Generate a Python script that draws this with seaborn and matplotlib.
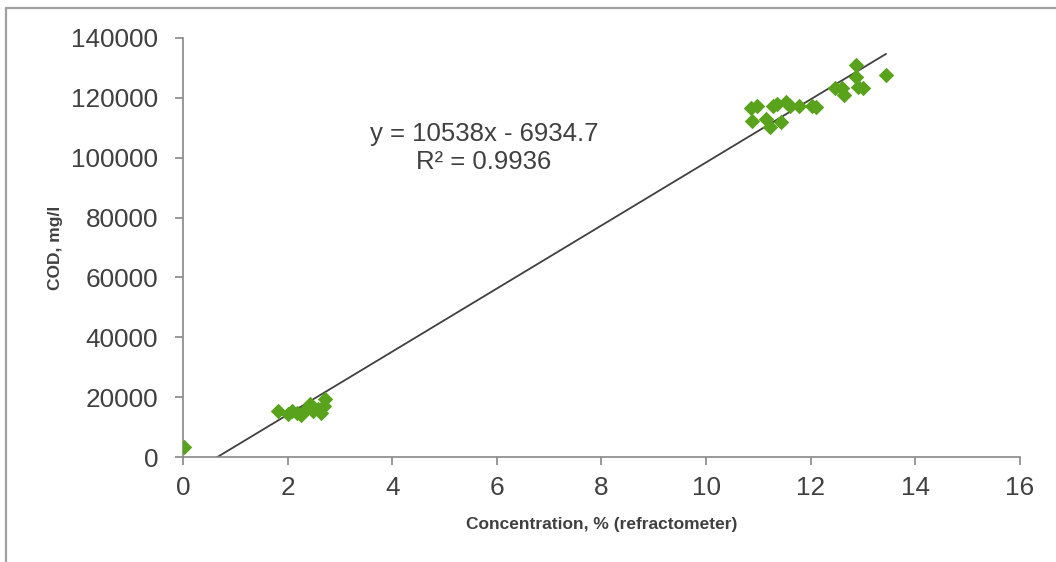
import numpy as np
import pandas as pd
import matplotlib
matplotlib.use('Agg')
import matplotlib.pyplot as plt
from matplotlib.lines import Line2D
import seaborn as sns

# data
conc_low = [0.02, 1.82, 2.0, 2.08, 2.18, 2.25, 2.33, 2.42, 2.48, 2.58, 2.64, 2.7, 2.72]
cod_low = [3300, 15500, 14300, 15300, 14600, 13900, 15700, 17600, 15400, 16000, 14800, 17000, 19300]
conc_high = [10.86, 10.88, 10.98, 11.14, 11.22, 11.28, 11.35, 11.43, 11.52, 11.6, 11.78,
             12.02, 12.1, 12.46, 12.6, 12.64, 12.86, 12.87, 12.9, 13.0, 13.44]
cod_high = [116500, 112300, 117300, 112800, 110200, 117300, 118000, 112000, 118700, 117200, 117300,
            117300, 117000, 123300, 123300, 121000, 131000, 126800, 123500, 123200, 127600]
slope = 10538
intercept = -6934.7
eq_text = 'y = 10538x - 6934.7\nR² = 0.9936'

data = pd.DataFrame({'conc': conc_low + conc_high, 'cod': cod_low + cod_high})

sns.set_style('white')
plt.rcParams['font.family'] = ['Liberation Sans', 'DejaVu Sans']

text_color = '#404040'
axis_color = '#888888'
green = '#58A21C'

fig = plt.figure(figsize=(10.56, 5.62), dpi=100)
ax = fig.add_axes([0.1733, 0.1868, 0.7926, 0.7456])

sns.scatterplot(data=data, x='conc', y='cod', marker='D', s=62, color=green,
                edgecolor=green, linewidth=0, ax=ax, zorder=3)

# linear trendline
xs = np.array([0, data['conc'].max()])
ax.plot(xs, slope * xs + intercept, color='#404040', lw=1.3, zorder=2)

ax.set_xlim(0, 16)
ax.set_ylim(0, 140000)
ax.set_xticks(range(0, 17, 2))
ax.set_yticks(range(0, 140001, 20000))
ax.tick_params(axis='both', labelsize=18.8, colors=axis_color, labelcolor=text_color,
               length=6, width=1.2, direction='out', bottom=True, left=True)
ax.tick_params(axis='x', pad=8)
ax.tick_params(axis='y', pad=12)
for side in ['top', 'right']:
    ax.spines[side].set_visible(False)
for side in ['left', 'bottom']:
    ax.spines[side].set_color(axis_color)
    ax.spines[side].set_linewidth(1.2)

ax.set_xlabel('Concentration, % (refractometer)', fontsize=12.5, fontweight='bold',
              color=text_color, labelpad=12)
ax.set_ylabel('COD, mg/l', fontsize=12.5, fontweight='bold', color=text_color, labelpad=6)

ax.text(5.75, 103200, eq_text, ha='center', va='center', fontsize=18.5,
        color=text_color, linespacing=1.2)

# chart area border (top and left visible)
fig.add_artist(Line2D([6 / 1056, 1], [1 - 8 / 562, 1 - 8 / 562], transform=fig.transFigure,
                      color='#A0A0A0', lw=1.6))
fig.add_artist(Line2D([6 / 1056, 6 / 1056], [0, 1 - 8 / 562], transform=fig.transFigure,
                      color='#A0A0A0', lw=1.6))

plt.savefig('out.png', dpi=100)
